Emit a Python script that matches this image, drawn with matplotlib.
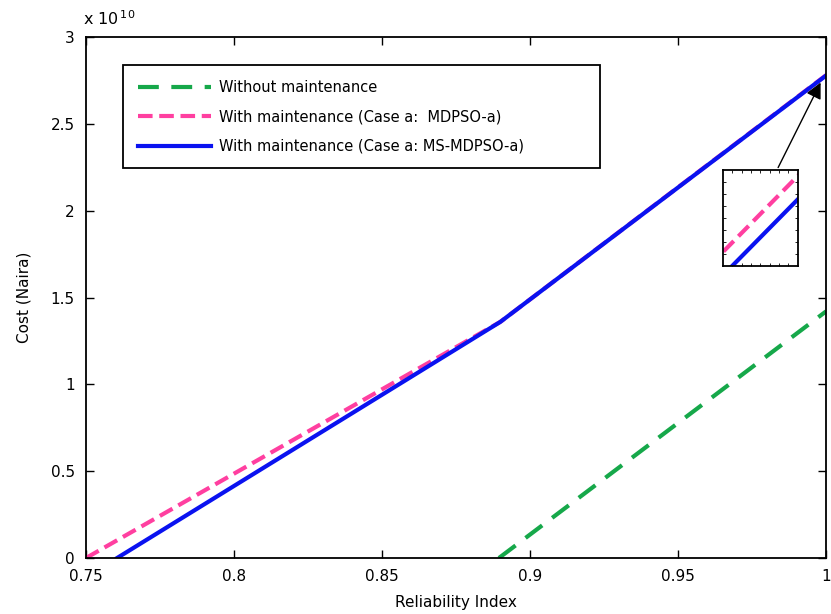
import matplotlib
matplotlib.use("Agg")
import matplotlib.pyplot as plt
import numpy as np

plt.rcParams['font.family'] = ['DejaVu Sans']

# Costs in units of 1e10 Naira
x_without = [0.8895, 1.0]
y_without = [0.0, 1.42]
x_mdpso = [0.75, 0.89, 1.0]
y_mdpso = [0.0, 1.36, 2.780]
x_msmdpso = [0.7605, 0.89, 1.0]
y_msmdpso = [0.0, 1.36, 2.778]

labels = ["Without maintenance",
          "With maintenance (Case a:  MDPSO-a)",
          "With maintenance (Case a: MS-MDPSO-a)"]
xticks = [0.75, 0.8, 0.85, 0.9, 0.95, 1.0]
xticklabels = ["0.75", "0.8", "0.85", "0.9", "0.95", "1"]
yticks = [0, 0.5, 1, 1.5, 2, 2.5, 3]
yticklabels = ["0", "0.5", "1", "1.5", "2", "2.5", "3"]

green = "#16a84a"
pink = "#ff3fa0"
blue = "#0a12f0"

fig = plt.figure(figsize=(8.31, 6.14), dpi=100)
ax = fig.add_axes([0.1035, 0.0912, 0.8905, 0.8485])

def draw(a, lw):
    a.plot(x_without, y_without, color=green, lw=lw, dashes=(5, 3), label=labels[0])
    a.plot(x_mdpso, y_mdpso, color=pink, lw=lw, dashes=(3.5, 1.6), label=labels[1])
    a.plot(x_msmdpso, y_msmdpso, color=blue, lw=lw, label=labels[2])

draw(ax, 3)
ax.set_xlim(0.75, 1.0)
ax.set_ylim(0, 3)
ax.set_xticks(xticks)
ax.set_xticklabels(xticklabels)
ax.set_yticks(yticks)
ax.set_yticklabels(yticklabels)
ax.tick_params(direction='in', top=True, right=True, labelsize=11, length=6,
               width=1, pad=8)
for s in ax.spines.values():
    s.set_linewidth(1.3)
ax.set_xlabel("Reliability Index", fontsize=11, labelpad=8)
ax.set_ylabel("Cost (Naira)", fontsize=11, labelpad=14)
ax.text(-0.004, 1.018, r"x 10$^{\,10}$", transform=ax.transAxes, fontsize=11.5,
        ha='left', va='bottom')

leg = ax.legend(loc='upper left', bbox_to_anchor=(0.05, 0.946, 0.6446, 0.0),
                mode='expand', fontsize=10.5,
                handlelength=5.0, labelspacing=1.0, borderpad=1.0,
                fancybox=False, framealpha=1, edgecolor='black',
                handletextpad=0.6, borderaxespad=0)
leg.get_frame().set_linewidth(1.3)

# arrow from inset to the end point
ax.annotate("", xy=(0.9986, 2.752), xytext=(0.9834, 2.234),
            arrowprops=dict(arrowstyle='-|>', color='black', lw=1,
                            mutation_scale=24))

# inset
ins = fig.add_axes([0.870, 0.5668, 0.090, 0.1564])
draw(ins, 3)
x0 = 0.9990
dx = 0.0005
slope = (y_mdpso[2] - y_mdpso[1]) / (x_mdpso[2] - x_mdpso[1])
p0 = y_mdpso[1] + (x0 - x_mdpso[1]) * slope
dy = slope * dx * 96 / 76
ybot = p0 - 14 / 96 * dy
ins.set_xlim(x0, x0 + dx)
ins.set_ylim(ybot, ybot + dy)
ins.set_xticks(np.linspace(x0, x0 + dx, 9)[1:-1])
ins.set_yticks(np.linspace(ybot, ybot + dy, 9)[1:-1])
ins.tick_params(direction='in', top=True, right=True, labelbottom=False,
                labelleft=False, length=2, width=0.6)
for s in ins.spines.values():
    s.set_linewidth(1.3)

fig.savefig("out.png", dpi=100)
